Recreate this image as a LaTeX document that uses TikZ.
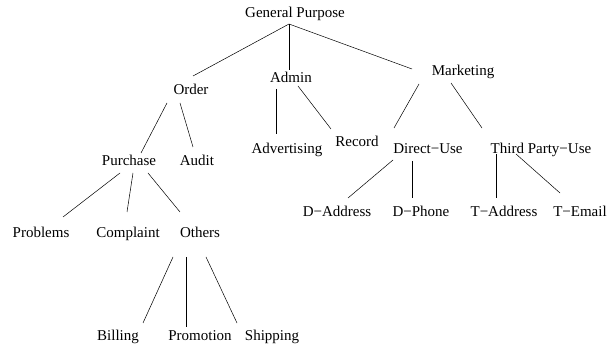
\documentclass[tikz,border=0pt]{standalone}
\usepackage{fontspec}
\setmainfont{Liberation Serif}
\usepackage{tikz}
\usetikzlibrary{positioning}

\begin{document}
\begin{tikzpicture}[x=1pt,y=-1pt,lbl/.style={anchor=base,inner sep=0pt},
  font=\fontsize{15}{18}\selectfont,line width=0.5pt]
    \useasboundingbox (0,0) rectangle (608,347);
       \node[lbl] (gp)  at (295,18)  {General Purpose};
       \node[lbl] (ord) at (191,95)  {Order};
       \node[lbl] (adm) at (291,83)  {Admin};
       \node[lbl] (mkt) at (463,76)  {Marketing};
       \node[lbl] (pur) at (129,166) {Purchase};
       \node[lbl] (aud) at (197,166) {Audit};
       \node[lbl] (adv) at (287,154) {Advertising};
       \node[lbl] (rec) at (357,147) {Record};
       \node[lbl] (dir) at (428,154) {Direct−Use};
       \node[lbl] (tpu) at (541,154) {Third Party−Use};
       \node[lbl] (dad) at (337,217) {D−Address};
       \node[lbl] (dph) at (421,217) {D−Phone};
       \node[lbl] (tad) at (504,217) {T−Address};
       \node[lbl] (tem) at (580,217) {T−Email};
       \node[lbl] (prb) at (41,238)  {Problems};
       \node[lbl] (cpl) at (128,238) {Complaint};
       \node[lbl] (oth) at (200,238) {Others};
       \node[lbl] (bil) at (118,341) {Billing};
       \node[lbl] (pro) at (200,341) {Promotion};
       \node[lbl] (shp) at (272,341) {Shipping};

        \path[-]
        ([shift={(-6,6)}]gp.base) edge ([shift={(2,-19)}]ord.base)
        ([shift={(-6,6)}]gp.base) edge ([shift={(-2,-13)}]adm.base)
        ([shift={(-6,6)}]gp.base) edge ([shift={(-51,-7)}]mkt.base)
        ([shift={(-24,8)}]ord.base) edge ([shift={(12,-13)}]pur.base)
        ([shift={(-11,8)}]ord.base) edge ([shift={(-4,-19)}]aud.base)
        ([shift={(-15,6)}]adm.base) edge ([shift={(-11,-20)}]adv.base)
        ([shift={(7,3)}]adm.base) edge ([shift={(-26,-18)}]rec.base)
        ([shift={(-44,8)}]mkt.base) edge ([shift={(-34,-26)}]dir.base)
        ([shift={(-12,7)}]mkt.base) edge ([shift={(-59,-26)}]tpu.base)
        ([shift={(-35,6)}]dir.base) edge ([shift={(11,-19)}]dad.base)
        ([shift={(-16,7)}]dir.base) edge ([shift={(-9,-19)}]dph.base)
        ([shift={(-45,0)}]tpu.base) edge ([shift={(-8,-19)}]tad.base)
        ([shift={(-25,0)}]tpu.base) edge ([shift={(-20,-24)}]tem.base)
        ([shift={(-9,7)}]pur.base) edge ([shift={(22,-21)}]prb.base)
        ([shift={(4,7)}]pur.base) edge ([shift={(-1,-26)}]cpl.base)
        ([shift={(19,7)}]pur.base) edge ([shift={(-20,-26)}]oth.base)
        ([shift={(-27,19)}]oth.base) edge ([shift={(25,-18)}]bil.base)
        ([shift={(-14,19)}]oth.base) edge ([shift={(-14,-14)}]pro.base)
        ([shift={(6,19)}]oth.base) edge ([shift={(-35,-18)}]shp.base)
        ;
    \end{tikzpicture}
\end{document}
